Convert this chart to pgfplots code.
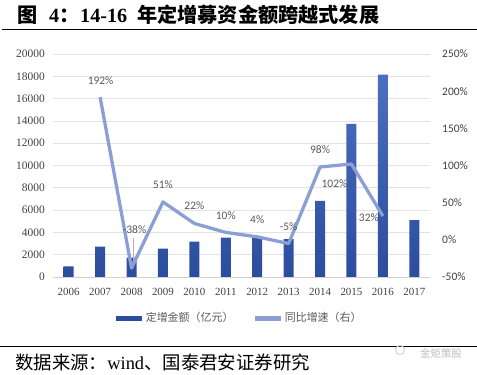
\documentclass[border=0pt]{standalone}
\usepackage{pgfplots}
\pgfplotsset{compat=1.18}
\usepackage{fontspec}
\setmainfont{Liberation Serif}
\newfontfamily\cjk{Noto Sans CJK SC}
\newfontfamily\calibri{Carlito}
\definecolor{barA}{HTML}{2C4D9D}
\definecolor{barB}{HTML}{4B6FC2}
\definecolor{lineC}{HTML}{8C9FD4}
\definecolor{lab}{HTML}{595959}
\definecolor{tick}{HTML}{404040}
\begin{document}
\begin{tikzpicture}
\useasboundingbox (0bp,0bp) rectangle (477bp,375bp);
% title
\node[anchor=base west, inner sep=0] at (17bp,352bp) {\fontsize{20.25}{21}\selectfont\bfseries\cjk 图};
\node[anchor=base west, inner sep=0] at (49bp,352bp) {\fontsize{20.25}{21}\selectfont\bfseries 4\cjk ：};
\node[anchor=base west, inner sep=0] at (80bp,352bp) {\fontsize{20.25}{21}\selectfont\bfseries 14-16};
\node[anchor=base west, inner sep=0] at (137bp,352bp) {\fontsize{20.25}{21}\selectfont\bfseries\cjk 年定增募资金额跨越式发展};
\draw[line width=1.3bp] (2bp,345.5bp) -- (477bp,345.5bp);
% bars axis
\begin{axis}[at={(53bp,98bp)}, anchor=south west, scale only axis,
  width=377bp, height=223bp,
  xmin=-0.5, xmax=11.5, ymin=0, ymax=20000,
  ytick={0,2000,...,20000},
  ymajorgrids, grid style={draw=gray!22, line width=0.7bp},
  axis y line*=left, axis x line*=bottom,
  y axis line style={draw=none},
  x axis line style={draw=gray!35, line width=0.7bp},
  xtick={0,...,11},
  xticklabels={2006,2007,2008,2009,2010,2011,2012,2013,2014,2015,2016,2017},
  major tick length=0,
  scaled y ticks=false,
  /pgf/number format/assume math mode=true,
  y tick label style={/pgf/number format/1000 sep={}, font=\fontsize{11.5}{12}\selectfont, text=tick, inner sep=0, anchor=east, xshift=-8bp},
  x tick label style={font=\fontsize{11}{12}\selectfont, text=tick, inner sep=0, anchor=north, yshift=-11bp},
  legend style={at={(0.496,-0.184)}, anchor=center, draw=none, fill=none,
    legend columns=2, font=\cjk\fontsize{11}{12}\selectfont, text=lab,
    /tikz/every even column/.append style={column sep=20bp},
    /tikz/every odd column/.append style={column sep=2bp}},
  clip=false]
\addplot[ybar, bar width=10bp, draw=none, top color=barB, bottom color=barA, forget plot] coordinates {
(0,950) (1,2716) (2,1731) (3,2537) (4,3164) (5,3522) (6,3642) (7,3400) (8,6836) (9,13731) (10,18149) (11,5104)};
\addlegendimage{legend image code/.code={\fill[barA] (0bp,-2bp) rectangle (25bp,2bp);}}
\addlegendentry{定增金额（亿元）}
\addlegendimage{legend image code/.code={\fill[lineC] (0bp,-2bp) rectangle (25bp,2bp);}}
\addlegendentry{同比增速（右）}
\end{axis}
% line axis
\begin{axis}[at={(53bp,98bp)}, anchor=south west, scale only axis,
  width=377bp, height=223bp,
  xmin=-0.5, xmax=11.5, ymin=-50, ymax=250,
  ytick={-50,0,...,250},
  axis y line*=right, axis x line=none,
  y axis line style={draw=none},
  major tick length=0,
  yticklabel={\pgfmathprintnumber{\tick}\%},
  /pgf/number format/assume math mode=true,
  y tick label style={font=\calibri\fontsize{11.5}{12}\selectfont, text=tick, inner sep=0, anchor=west, xshift=12bp},
  clip=false]
\addplot[gray!60, line width=0.5bp] coordinates {(2.05,2.7) (2.05,-29.7)};
\addplot[lineC, line width=3.3bp, line join=round] coordinates {
(1,192) (2,-38) (3,51) (4,22) (5,10) (6,4) (7,-5) (8,98) (9,102) (10,32)};
\addplot[draw=none, mark=none, nodes near coords, point meta=explicit symbolic,
  visualization depends on={\thisrow{dx} \as \dx},
  visualization depends on={\thisrow{dy} \as \dy},
  every node near coord/.style={font=\calibri\fontsize{11.5}{12}\selectfont, text=lab, anchor=center, inner sep=0, xshift=\dx bp, yshift=\dy bp}]
  table[x=x, y=y, meta=l] {
x y l dx dy
1 192 192\% 0.5 16
2 -38 -38\% 3 38
3 51 51\% 0 17
4 22 22\% 0 18
5 10 10\% 0 17
6 4 4\% 0 17
7 -5 -5\% 0 17
8 98 98\% 0 17
9 102 102\% -17 -20
10 32 32\% -14 -2
};
\end{axis}
% source
\draw[line width=1bp] (0bp,28bp) -- (477bp,28bp);
\node[anchor=base west, inner sep=0] at (15bp,6bp) {\fontsize{18.5}{19}\selectfont\cjk 数据来源：{\rmfamily wind}、国泰君安证券研究};
\draw[gray!40, line width=0.8bp] (400bp,25bp) circle (4.5bp);
\node[anchor=center, inner sep=0, text=gray!50] at (441bp,22bp) {\fontsize{10.5}{11}\selectfont\cjk 金矩策股};
\end{tikzpicture}
\end{document}
